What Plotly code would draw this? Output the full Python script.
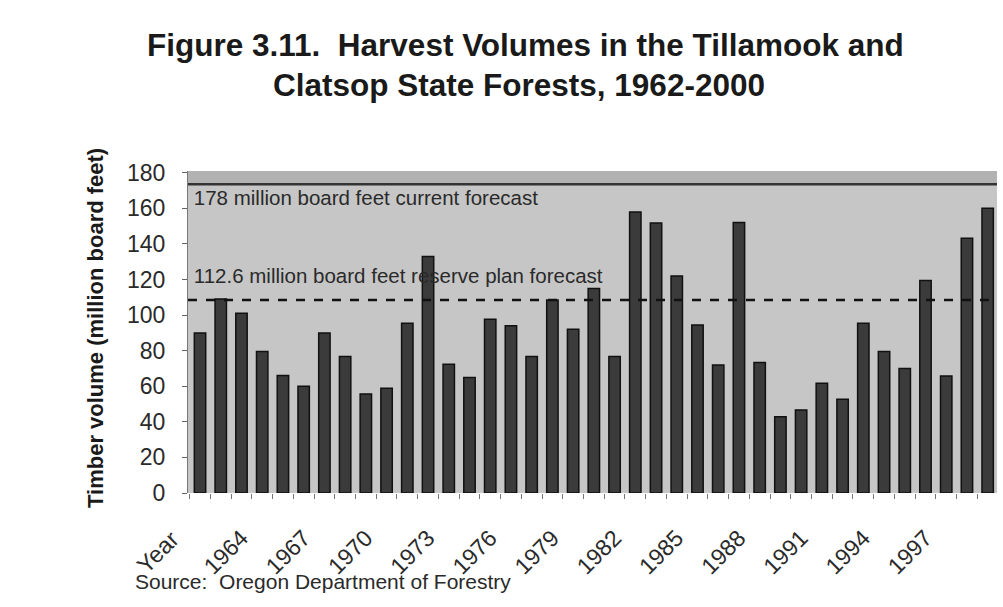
import plotly.graph_objects as go

years = list(range(1962, 2001))
harvest = [90, 109, 101, 79.5, 66, 60, 90, 76.7, 55.7, 58.9,
           95.4, 133, 72.4, 64.9, 97.7, 94, 76.7, 108.5, 92, 115,
           76.7, 158, 151.7, 122, 94.5, 72, 152, 73.3, 42.9, 46.7,
           61.7, 52.7, 95.4, 79.5, 70, 119.4, 65.8, 143.2, 160]

tick_years = list(range(1964, 2000, 3))
tick_labels = [str(y) for y in tick_years]

current_forecast_level = 173.5
current_forecast_label = "178 million board feet current forecast"
plan_forecast_level = 108.5
plan_forecast_label = "112.6 million board feet reserve plan forecast"

title_lines = ["Figure 3.11.  Harvest Volumes in the Tillamook and",
               "Clatsop State Forests, 1962-2000"]

FONT = "Liberation Sans, Arial, sans-serif"

fig = go.Figure()

# forecast labels first so bars draw over them
fig.add_trace(go.Scatter(
    x=[1961.7, 1961.7], y=[current_forecast_level - 9, plan_forecast_level + 12.4],
    mode="text", text=[current_forecast_label, plan_forecast_label],
    textposition="middle right", textfont=dict(family=FONT, size=20.5, color="#2a2a2a"),
    hoverinfo="skip", showlegend=False, cliponaxis=False))

fig.add_trace(go.Bar(
    x=years, y=harvest, width=0.55,
    marker=dict(color="#3b3b3b", line=dict(color="#111111", width=1.5)),
    showlegend=False))

fig.add_shape(type="rect", xref="paper", yref="y", x0=0, x1=1,
              y0=current_forecast_level, y1=181, fillcolor="#b2b2b2",
              line=dict(width=0), layer="below")
fig.add_shape(type="line", xref="paper", yref="y", x0=0, x1=1,
              y0=current_forecast_level, y1=current_forecast_level,
              line=dict(color="#333333", width=2.5), layer="above")
fig.add_shape(type="line", xref="paper", yref="y", x0=0, x1=1,
              y0=plan_forecast_level, y1=plan_forecast_level,
              line=dict(color="#111111", width=2.5, dash="dash"), layer="above")

fig.update_layout(
    width=1003, height=607,
    margin=dict(l=188, r=6, t=171, b=114),
    paper_bgcolor="white", plot_bgcolor="#c6c6c6",
    font=dict(family=FONT, color="#222222"),
    bargap=0.4,
)

fig.update_xaxes(range=[1961.42, 2000.45], tickmode="array", tickvals=tick_years,
                 ticktext=tick_labels, tickangle=-45, ticks="", showgrid=False,
                 zeroline=False, showline=False, ticklabelstandoff=26,
                 tickfont=dict(family=FONT, size=23, color="#2a2a2a"),
                 minor=dict(tickmode="linear", tick0=1961.5, dtick=1, ticks="outside",
                            ticklen=5, tickcolor="#777777", showgrid=False))

fig.update_yaxes(range=[0, 181], tickmode="linear", tick0=0, dtick=20, ticks="outside",
                 ticklen=5, tickcolor="#666666", showline=True, linecolor="#777777",
                 linewidth=1, showgrid=False, zeroline=False, ticklabelstandoff=12,
                 tickfont=dict(family=FONT, size=23, color="#2a2a2a"))

# title lines
for line, cx, cy in zip(title_lines, [525, 519], [45, 85]):
    fig.add_annotation(text="<b>" + line + "</b>", xref="paper", yref="paper",
                       x=(cx - 188) / 809, y=(493 - cy) / 322,
                       xanchor="center", yanchor="middle", showarrow=False,
                       font=dict(family=FONT, size=31.5, color="#1a1a1a"))

fig.add_annotation(text="<b>Timber volume (million board feet)</b>", xref="paper", yref="paper",
                   x=(95 - 188) / 809, y=(493 - 328) / 322, textangle=-90,
                   xanchor="center", yanchor="middle", showarrow=False,
                   font=dict(family=FONT, size=22, color="#1a1a1a"))
fig.add_annotation(text="Year", xref="paper", yref="paper",
                   x=(158 - 188) / 809, y=(493 - 552) / 322, textangle=-45,
                   xanchor="center", yanchor="middle", showarrow=False,
                   font=dict(family=FONT, size=23.5, color="#2a2a2a"))
fig.add_annotation(text="Source:  Oregon Department of Forestry", xref="paper", yref="paper",
                   x=(133 - 188) / 809, y=(493 - 581) / 322,
                   xanchor="left", yanchor="middle", showarrow=False,
                   font=dict(family=FONT, size=21, color="#2a2a2a"))

fig.write_html("out.html")
